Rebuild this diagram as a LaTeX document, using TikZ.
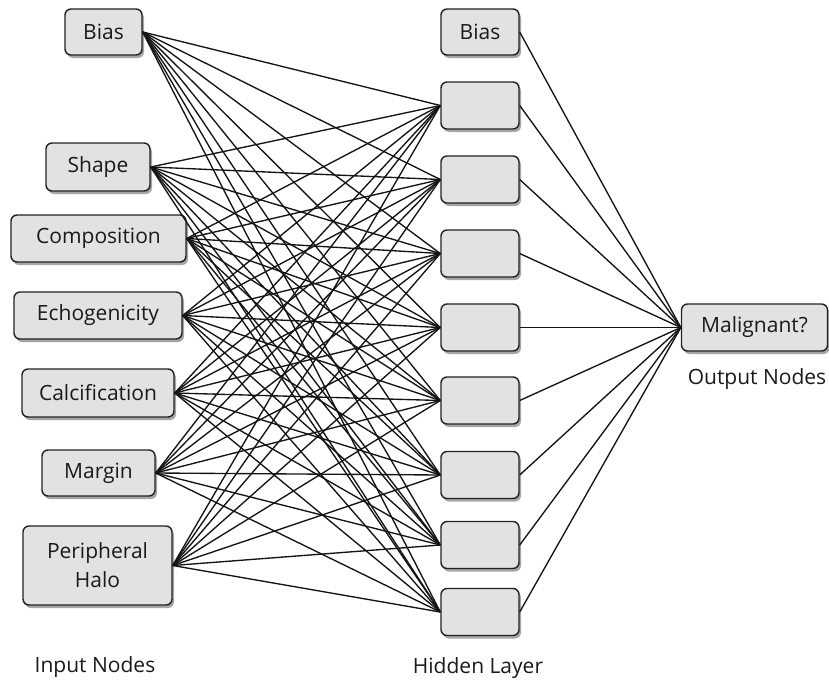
\documentclass[tikz,border=0pt]{standalone}
\usepackage{fontspec}
\setmainfont{Open Sans}
\usetikzlibrary{shadows}
\definecolor{boxfill}{HTML}{E2E2E2}
\definecolor{boxline}{HTML}{222222}
\definecolor{txt}{HTML}{1A1A1A}
\begin{document}
\begin{tikzpicture}[x=1pt,y=-1pt,
  nbox/.style={draw=boxline, line width=1.4pt, fill=boxfill, rounded corners=6pt,
    inner sep=0pt, align=center, text=txt, font=\fontsize{21}{29}\selectfont,
    drop shadow={shadow xshift=2pt, shadow yshift=-3pt, opacity=0.35, fill=black}},
  lbl/.style={text=txt, font=\fontsize{21}{25}\selectfont, inner sep=0pt},
  conn/.style={draw=black!92, line width=1.35pt}]
\useasboundingbox (0,0) rectangle (829,680);
% input layer
\node[nbox, minimum width=77pt, minimum height=46pt] (i0) at (103.5,32) {Bias};
\node[nbox, minimum width=104pt, minimum height=48pt] (i1) at (98,167) {Shape};
\node[nbox, minimum width=175pt, minimum height=47pt] (i2) at (98.5,238.5) {Composition};
\node[nbox, minimum width=168pt, minimum height=47pt] (i3) at (98,315.5) {Echogenicity};
\node[nbox, minimum width=152pt, minimum height=48pt] (i4) at (98,393) {Calcification};
\node[nbox, minimum width=113pt, minimum height=46pt] (i5) at (98.5,473) {Margin};
\node[nbox, minimum width=149pt, minimum height=79pt] (i6) at (97.5,565.5) {Peripheral\\Halo};
% hidden layer
\node[nbox, minimum width=78pt, minimum height=46pt] (h0) at (480,32) {Bias};
\foreach \n/\y in {1/105.5,2/179.5,3/253.5,4/327.5,5/400.5,6/475,7/545,8/612}{
  \node[nbox, minimum width=78pt, minimum height=47pt] (h\n) at (480,\y) {};
}
% output
\node[nbox, minimum width=146pt, minimum height=47pt] (o) at (754.5,327.5) {Malignant?};
% labels
\node[lbl] (li) at (95,667) {Input Nodes};
\node[lbl] (lh) at (478,668) {Hidden Layer};
\node[lbl] (lo) at (757,379) {Output Nodes};
% connections
\foreach \i in {0,...,6}{
  \foreach \h in {1,...,8}{
    \draw[conn] (i\i.east) -- (h\h.west);
  }
}
\foreach \h in {0,...,8}{
  \draw[conn] (h\h.east) -- (o.west);
}
\end{tikzpicture}
\end{document}
